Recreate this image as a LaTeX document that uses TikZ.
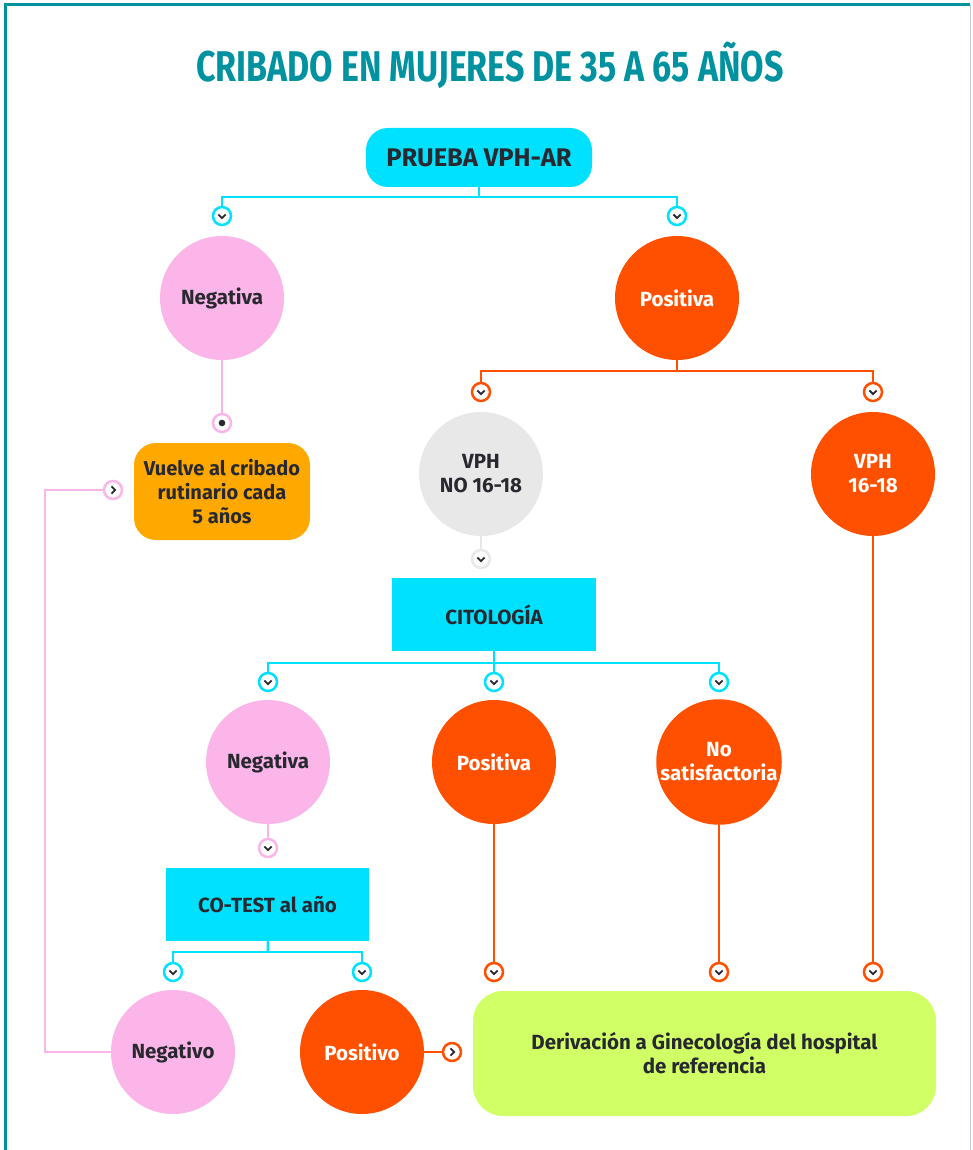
\documentclass[tikz,border=0pt]{standalone}
\usepackage{fontspec}
\setmainfont{Fira Sans}
\newfontfamily\titlefont{Fira Sans}[FakeStretch=0.79]
\usetikzlibrary{positioning}

\definecolor{tealc}{RGB}{0,146,160}
\definecolor{cyanc}{RGB}{0,225,255}
\definecolor{pinkc}{RGB}{251,181,232}
\definecolor{orangec}{RGB}{255,80,0}
\definecolor{amberc}{RGB}{255,168,0}
\definecolor{greyc}{RGB}{232,232,232}
\definecolor{limec}{RGB}{209,255,102}
\definecolor{ink}{RGB}{40,40,48}
\definecolor{framec}{RGB}{190,205,215}

\begin{document}
\begin{tikzpicture}[
    x=1pt, y=-1pt,
    every node/.style={font=\bfseries\fontsize{20.5}{24}\selectfont, text=ink},
    bubble/.style={circle, minimum size=124pt, inner sep=1pt, align=center},
    neg bubble/.style={bubble, fill=pinkc},
    pos bubble/.style={bubble, fill=orangec, text=white},
    grey bubble/.style={bubble, fill=greyc},
    test box/.style={fill=cyanc, minimum width=204pt, minimum height=73pt, align=center},
    cyan line/.style={draw=cyanc, line width=2.5pt},
    pink line/.style={draw=pinkc, line width=2.5pt},
    orange line/.style={draw=orangec, line width=2.5pt},
    grey line/.style={draw=greyc, line width=2.5pt},
    node mark/.style={circle, fill=white, line width=2.5pt, minimum size=18pt, inner sep=0pt},
    dn mark/.style={node mark, path picture={
        \draw[ink, line width=1.9pt] ([xshift=-3.6pt,yshift=1.5pt]path picture bounding box.center)
          -- ++(3.6pt,-3.6pt) -- ++(3.6pt,3.6pt);}},
    rt mark/.style={node mark, path picture={
        \draw[ink, line width=1.9pt] ([xshift=-1.5pt,yshift=3.6pt]path picture bounding box.center)
          -- ++(3.6pt,-3.6pt) -- ++(-3.6pt,-3.6pt);}},
    dot mark/.style={node mark, path picture={
        \fill[ink] (path picture bounding box.center) circle (3.3pt);}}
  ]
    \useasboundingbox (0,0) rectangle (972,1150);
    % frame and title
    \draw[framec, line width=1pt] (970,5) -- (970,1150);
    \draw[tealc, line width=3pt] (5,1150) -- (5,5) -- (970,5);
    \node[font=\titlefont\bfseries\fontsize{43}{46}\selectfont, text=tealc] (title) at (490,65) {CRIBADO EN MUJERES DE 35 A 65 AÑOS};

    % first test
    \node[fill=cyanc, rounded corners=22pt, minimum width=226pt, minimum height=59pt,
          font=\bfseries\fontsize{25.5}{28}\selectfont] (prueba) at (479,157.5) {PRUEBA VPH-AR};
    \node[neg bubble] (negA) at (222,298) {Negativa};
    \node[pos bubble] (posA) at (677,298) {Positiva};
    \node[fill=amberc, rounded corners=22pt, minimum width=176pt, minimum height=97pt, align=center,
          font=\bfseries\fontsize{20}{24}\selectfont] (vuelve) at (222,491.5) {Vuelve al cribado\\rutinario cada\\5 años};
    \node[grey bubble] (vphNo) at (481,474) {VPH\\NO 16-18};
    \node[pos bubble] (vphSi) at (873,474) {VPH\\16-18};

    % cytology
    \node[test box] (cito) at (494,614.5) {CITOLOGÍA};
    \node[neg bubble] (negB) at (268,762) {Negativa};
    \node[pos bubble] (posB) at (494,762) {Positiva};
    \node[pos bubble] (noSat) at (719,762) {No\\satisfactoria};

    % co-test
    \node[test box, minimum width=203pt] (cotest) at (267.5,904.5) {CO-TEST al año};
    \node[neg bubble] (negC) at (173,1052) {Negativo};
    \node[pos bubble] (posC) at (362,1052) {Positivo};
    \node[fill=limec, rounded corners=30pt, minimum width=463pt, minimum height=125pt, align=center] (deriv)
      at (704.5,1053.5) {Derivación a Ginecología del hospital\\de referencia};

    % markers
    \node[dn mark, draw=cyanc] (mkA1) at (222,216) {};
    \node[dn mark, draw=cyanc] (mkA2) at (677,216) {};
    \node[dot mark, draw=pinkc] (mkNeg) at (222,423) {};
    \node[rt mark, draw=pinkc] (mkLoop) at (113,490) {};
    \node[dn mark, draw=orangec] (mkB1) at (481,392) {};
    \node[dn mark, draw=orangec] (mkB2) at (873,392) {};
    \node[dn mark, draw=greyc] (mkGrey) at (481,559) {};
    \node[dn mark, draw=cyanc] (mkC1) at (268,682) {};
    \node[dn mark, draw=cyanc] (mkC2) at (494,682) {};
    \node[dn mark, draw=cyanc] (mkC3) at (719,682) {};
    \node[dn mark, draw=pinkc] (mkNegB) at (268,848) {};
    \node[dn mark, draw=cyanc] (mkD1) at (173,972) {};
    \node[dn mark, draw=cyanc] (mkD2) at (362,972) {};
    \node[dn mark, draw=orangec] (mkE1) at (494,972) {};
    \node[dn mark, draw=orangec] (mkE2) at (719,972) {};
    \node[dn mark, draw=orangec] (mkE3) at (873,972) {};
    \node[rt mark, draw=orangec] (mkPos) at (452,1052) {};

    \coordinate (hubA) at (479,197);
    \coordinate (hubB) at (677,371);
    \coordinate (hubC) at (494,663);
    \coordinate (hubD) at (268,952);

    % connectors
    \draw[cyan line] (prueba) -- (hubA);
    \draw[cyan line] (hubA) -| (mkA1);
    \draw[cyan line] (hubA) -| (mkA2);
    \draw[pink line] (negA) -- (mkNeg);
    \draw[orange line] (posA) -- (hubB);
    \draw[orange line] (hubB) -| (mkB1);
    \draw[orange line] (hubB) -| (mkB2);
    \draw[grey line] (vphNo) -- (mkGrey);
    \draw[cyan line] (cito) -- (hubC);
    \draw[cyan line] (hubC) -| (mkC1);
    \draw[cyan line] (hubC) -- (mkC2);
    \draw[cyan line] (hubC) -| (mkC3);
    \draw[pink line] (negB) -- (mkNegB);
    \draw[cyan line] (cotest) -- (hubD);
    \draw[cyan line] (hubD) -| (mkD1);
    \draw[cyan line] (hubD) -| (mkD2);
    \draw[orange line] (posB) -- (mkE1);
    \draw[orange line] (noSat) -- (mkE2);
    \draw[orange line] (vphSi) -- (mkE3);
    \draw[orange line] (posC) -- (mkPos);
    \draw[pink line] (negC.west) -- ++(-66,0) |- (mkLoop);
  \end{tikzpicture}
\end{document}
